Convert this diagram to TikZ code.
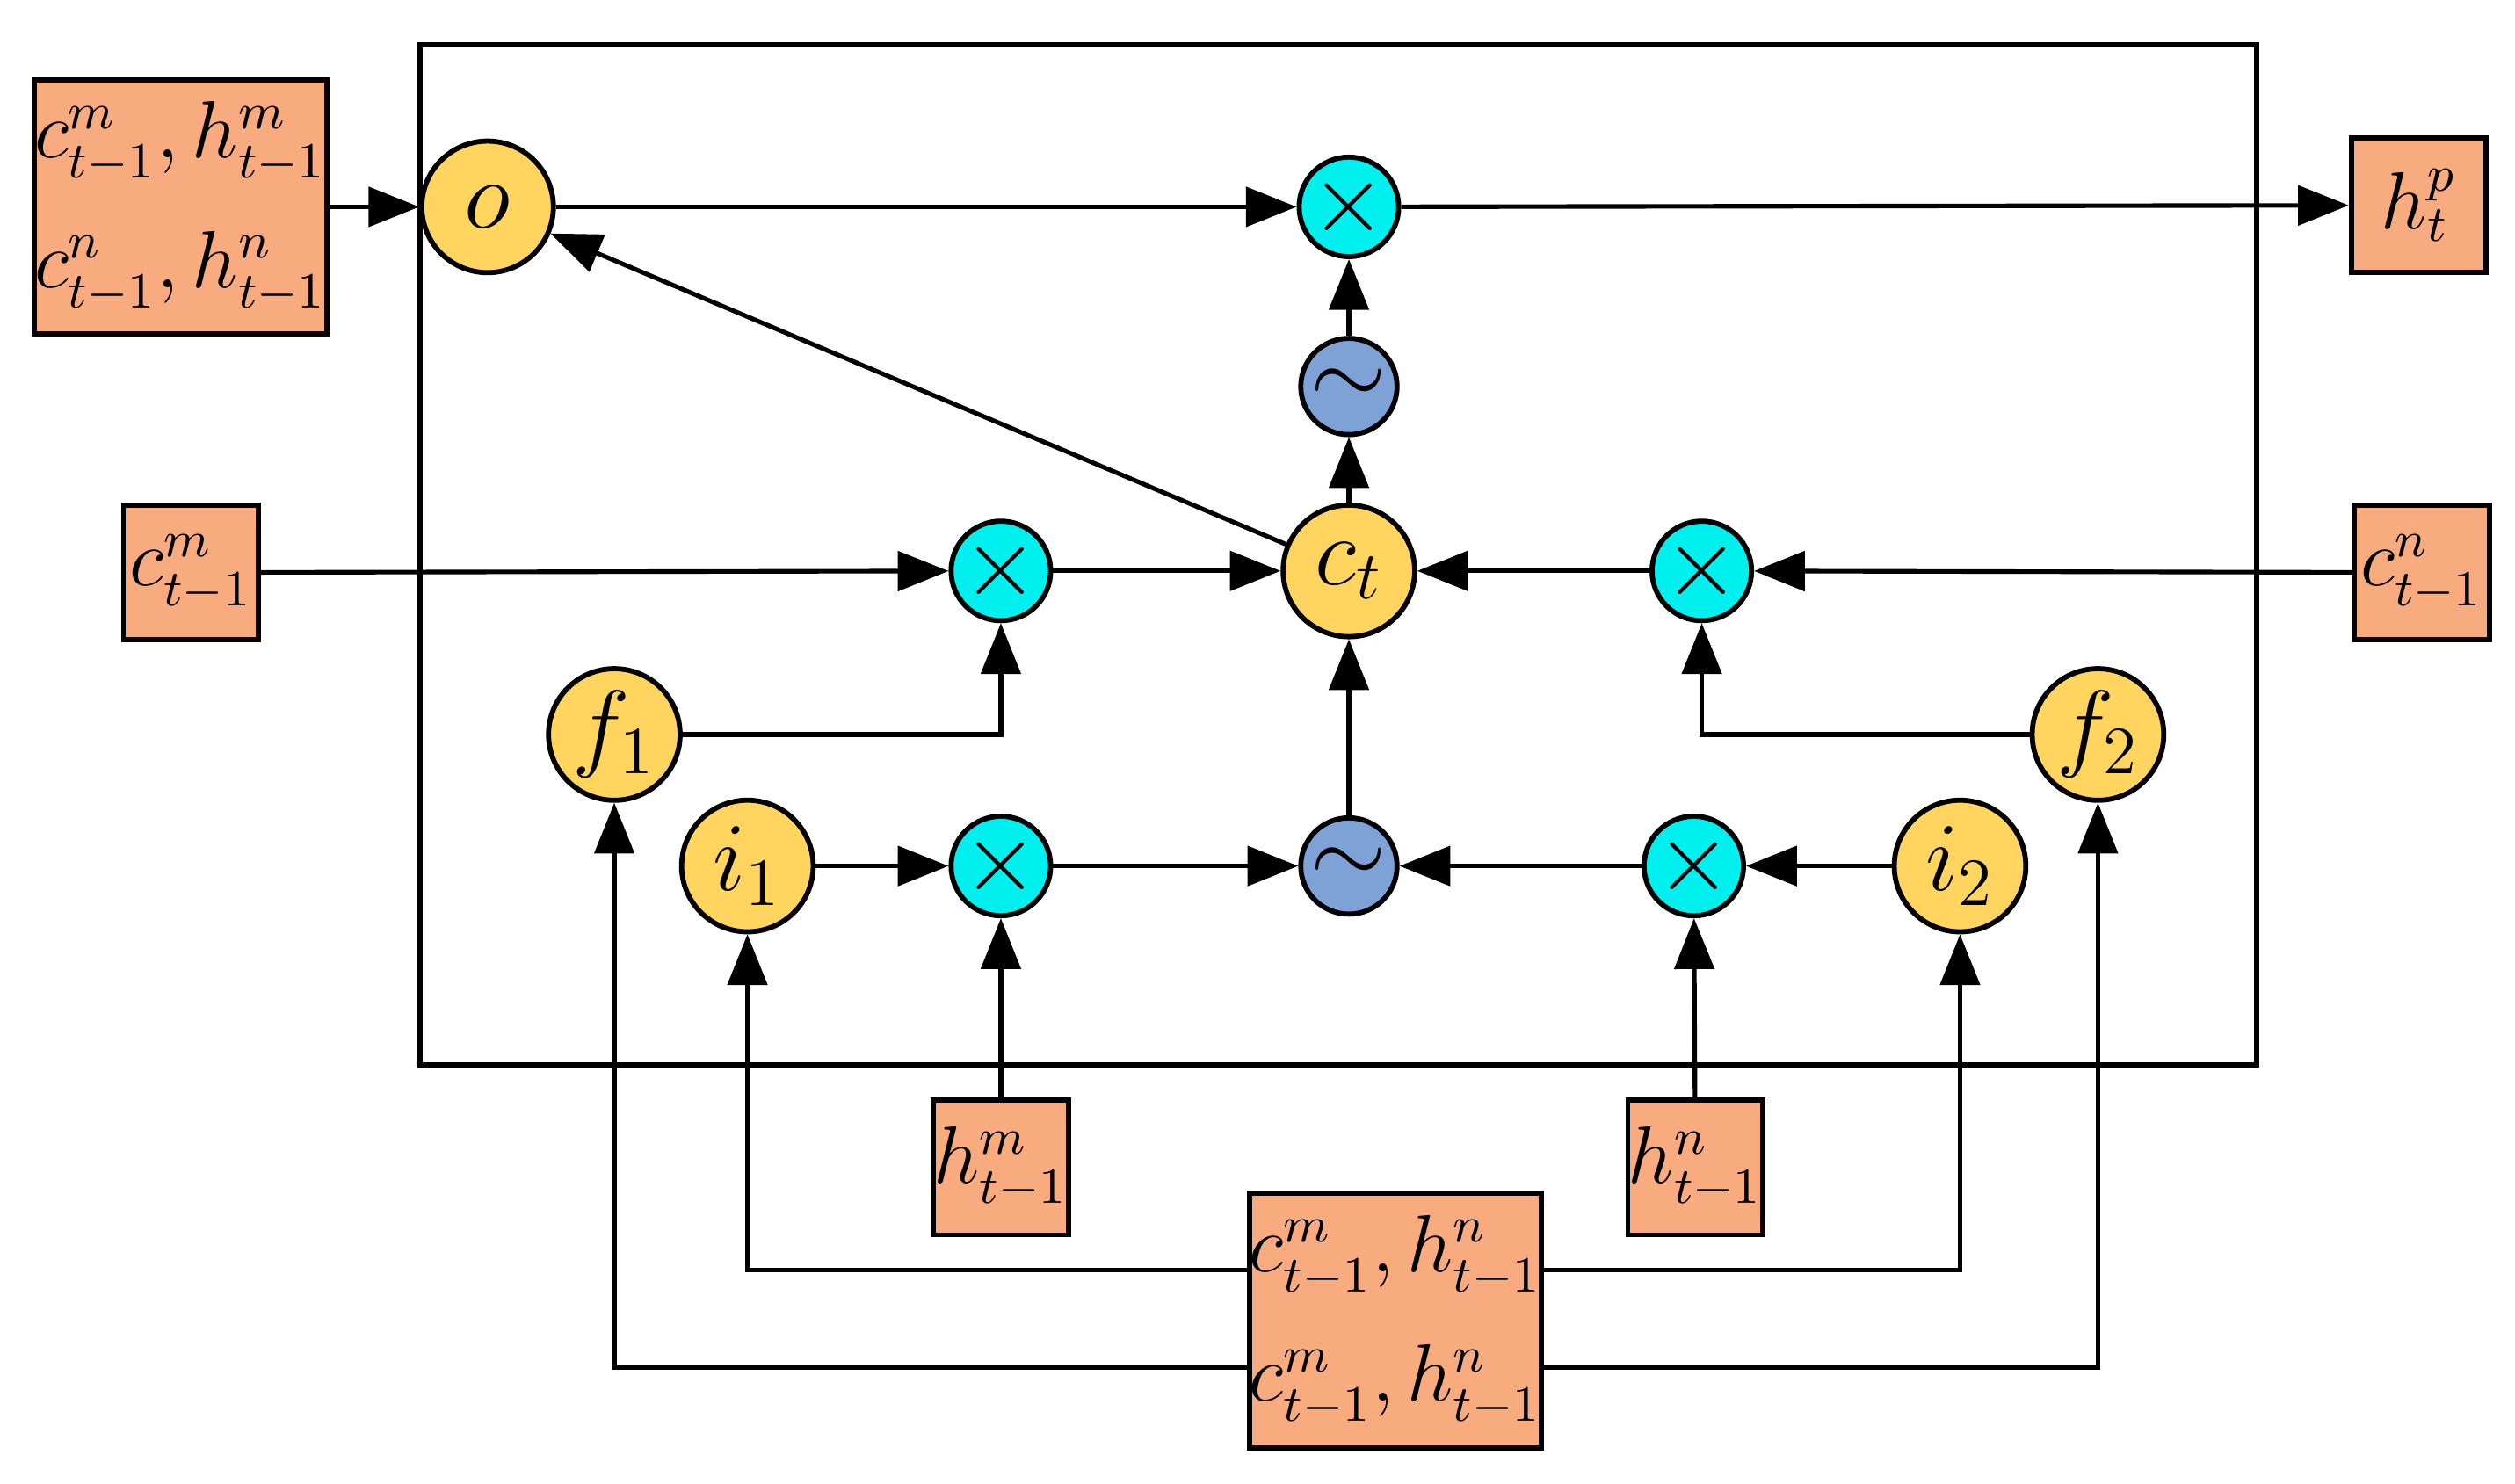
\documentclass[tikz,border=0pt]{standalone}
\usetikzlibrary{arrows.meta}
\begin{document}
\begin{tikzpicture}[x=0.01cm,y=-0.01cm,
  box/.style={draw,line width=0.9pt,fill=orb,inner sep=0pt,font=\fontsize{13.5}{15}\selectfont},
  yc/.style={circle,draw,line width=0.9pt,fill=yel,minimum size=0.82cm,inner sep=0pt,font=\fontsize{18}{20}\selectfont},
  xc/.style={circle,draw,line width=0.9pt,fill=cya,minimum size=0.6cm,inner sep=0pt,font=\fontsize{16}{18}\selectfont},
  bc/.style={circle,draw,line width=0.9pt,fill=blu,minimum size=0.6cm,inner sep=0pt,font=\fontsize{16}{18}\selectfont},
  ar/.style={-{Triangle[length=9pt,width=7pt]},line width=0.8pt}]
\definecolor{orb}{HTML}{F9AB80}
\definecolor{yel}{HTML}{FFD55F}
\definecolor{cya}{HTML}{00F0F0}
\definecolor{blu}{HTML}{7FA2D6}
\useasboundingbox (0,0) rectangle (1568,925);
\draw[line width=0.9pt] (262,28) rectangle (1407,664);
% boxes
\node[box,minimum width=1.81cm,minimum height=1.58cm,align=center] (tl) at (112.5,129) {$c^m_{t-1},h^m_{t-1}$\\[8pt]$c^n_{t-1},h^n_{t-1}$};
\node[box,minimum width=0.84cm,minimum height=0.84cm] (hp) at (1508,128) {$h^p_t$};
\node[box,minimum width=0.84cm,minimum height=0.84cm] (cm) at (119,357) {$c^m_{t-1}$};
\node[box,minimum width=0.84cm,minimum height=0.84cm] (cn) at (1510,357) {$c^n_{t-1}$};
\node[box,minimum width=0.84cm,minimum height=0.84cm] (hm) at (624,728) {$h^m_{t-1}$};
\node[box,minimum width=0.84cm,minimum height=0.84cm] (hn) at (1057,728) {$h^n_{t-1}$};
\node[box,minimum width=1.82cm,minimum height=1.59cm,align=center] (bt) at (870,823.5) {$c^m_{t-1},h^n_{t-1}$\\[8pt]$c^m_{t-1},h^n_{t-1}$};
% circles
\node[yc] (o) at (304,129) {$o$};
\node[xc] (x1) at (841,129) {$\times$};
\node[bc] (s1) at (841,241) {$\sim$};
\node[yc] (ct) at (841,356) {$c_t$};
\node[xc] (xl) at (624,356) {$\times$};
\node[xc] (xr) at (1061,356) {$\times$};
\node[yc] (f1) at (383,458) {$f_1$};
\node[yc] (f2) at (1308,458) {$f_2$};
\node[yc] (i1) at (466,540) {$i_1$};
\node[yc] (i2) at (1222,540) {$i_2$};
\node[xc] (xb1) at (624,540) {$\times$};
\node[bc] (s2) at (841,540) {$\sim$};
\node[xc] (xb2) at (1056,540) {$\times$};
% connectors
\draw[ar] (tl.east|-o) -- (o);
\draw[ar] (o) -- (x1);
\draw[ar] (x1) -- (hp);
\draw[ar] (s1) -- (x1);
\draw[ar] (ct) -- (s1);
\draw[ar] (ct) -- (o);
\draw[ar] (cm) -- (xl);
\draw[ar] (xl) -- (ct);
\draw[ar] (xr) -- (ct);
\draw[ar] (cn) -- (xr);
\draw[ar] (f1) -| (xl);
\draw[ar] (f2) -| (xr);
\draw[ar] (s2) -- (ct);
\draw[ar] (i1) -- (xb1);
\draw[ar] (xb1) -- (s2);
\draw[ar] (xb2) -- (s2);
\draw[ar] (i2) -- (xb2);
\draw[ar] (hm) -- (xb1);
\draw[ar] (hn) -- (xb2);
\draw[ar] (bt.west|-0,792) -| (i1);
\draw[ar] (bt.east|-0,792) -| (i2);
\draw[ar] (bt.west|-0,853) -| (f1);
\draw[ar] (bt.east|-0,853) -| (f2);
\end{tikzpicture}
\end{document}
